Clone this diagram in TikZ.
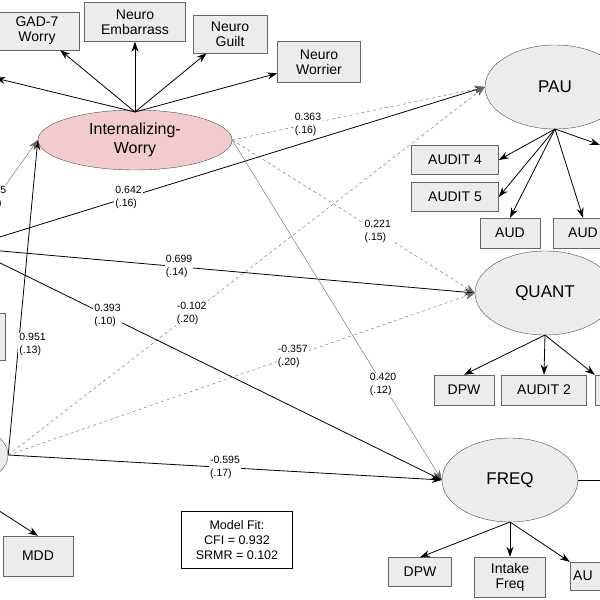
\documentclass[tikz,border=0pt]{standalone}
\usepackage{fontspec}
\setmainfont{Liberation Sans}
\usetikzlibrary{arrows.meta, positioning, shapes.geometric}
\definecolor{latentgray}{RGB}{236,236,236}
\definecolor{worrypink}{RGB}{242,204,204}
\begin{document}
\begin{tikzpicture}[x=1pt, y=-1pt, >={Stealth[length=10pt,width=7pt]},
    obs/.style={draw=black!60, fill=latentgray, rectangle, inner sep=0pt, align=center, font=\fontsize{14}{15}\selectfont},
    lat/.style={draw=black!70, fill=latentgray, ellipse, inner sep=0pt, align=center, font=\fontsize{17}{19}\selectfont},
    est/.style={fill=white, text=black, inner sep=1pt, align=left, font=\fontsize{10.5}{13}\selectfont},
    path/.style={->, thick},
    cov/.style={->, dashed, black!60},
    gpath/.style={->, black!60}]
    \useasboundingbox (0,0) rectangle (600,600);
    % latent factors
    \node[lat, fill=worrypink, minimum width=194pt, minimum height=60pt, font=\fontsize{16}{19}\selectfont] (worry) at (135,140) {Internalizing-\\Worry};
    \node[lat, minimum width=140pt, minimum height=84pt] (pau) at (555,87) {PAU};
    \node[lat, minimum width=140pt, minimum height=84pt] (quant) at (545,293) {QUANT};
    \node[lat, minimum width=136pt, minimum height=84pt] (freq) at (510,480) {FREQ};
    \node[lat, minimum width=96pt, minimum height=60pt] (dep) at (-40,455) {};
    % indicators
    \node[obs, minimum width=84pt, minimum height=38pt] (gad) at (37,31) {GAD-7\\Worry};
    \node[obs, minimum width=101pt, minimum height=39pt] (embar) at (135,22) {Neuro\\Embarrass};
    \node[obs, minimum width=74pt, minimum height=38pt] (guilt) at (230,34) {Neuro\\Guilt};
    \node[obs, minimum width=83pt, minimum height=41pt] (worrier) at (319,62) {Neuro\\Worrier};
    \node[obs, minimum width=60pt, minimum height=38pt] (leftbox) at (-35,78) {};
    \node[obs, minimum width=40pt, minimum height=47pt] (midbox) at (-15,337) {};
    \node[obs, minimum width=70pt, minimum height=40pt] (mdd) at (38,556) {MDD};
    \node[obs, minimum width=87pt, minimum height=29pt] (aud4) at (455,160) {AUDIT 4};
    \node[obs, minimum width=87pt, minimum height=29pt] (aud5) at (455,197) {AUDIT 5};
    \node[obs, minimum width=60pt, minimum height=30pt] (audA) at (510,233) {AUD};
    \node[obs, minimum width=60pt, minimum height=30pt] (audB) at (583,233) {AUD};
    \node[obs, minimum width=60pt, minimum height=30pt] (audC) at (630,160) {};
    \node[obs, minimum width=60pt, minimum height=30pt] (qdpw) at (464,390) {DPW};
    \node[obs, minimum width=85pt, minimum height=30pt] (aud2) at (544,390) {AUDIT 2};
    \node[obs, minimum width=60pt, minimum height=30pt] (qright) at (625,390) {};
    \node[obs, minimum width=63pt, minimum height=29pt] (fdpw) at (420,572) {DPW};
    \node[obs, minimum width=71pt, minimum height=40pt] (intake) at (510,577) {Intake\\Freq};
    \node[obs, minimum width=60pt, minimum height=28pt] (faud) at (600,576) {AU\phantom{DIT 3}};
    \node[draw, fill=white, minimum width=111pt, minimum height=57pt, align=center, font=\fontsize{12.5}{15}\selectfont] (fit) at (237,540) {Model Fit:\\CFI = 0.932\\SRMR = 0.102};
    \coordinate (wtop) at (135,112);
    \coordinate (ptop) at (555,129);
    \coordinate (qbot) at (545,335);
    \coordinate (fbot) at (510,522);
    \coordinate (cA) at (-10,240);
    \coordinate (cB) at (-10,250);
    \coordinate (cC) at (-10,258);
    \coordinate (cD) at (-30,235);
    \coordinate (cE) at (-10,505);
    \coordinate (cF) at (640,480);
    % loadings
    \foreach \t in {gad, embar, guilt, worrier} \draw[path] (wtop) -- (\t);
    \draw[path] (wtop) -- (leftbox.east);
    \foreach \t in {aud4.east, aud5.east, audA.north, audB.north, audC.north west} \draw[path] (ptop) -- (\t);
    \foreach \t in {qdpw.north, aud2.north, qright.north west} \draw[path] (qbot) -- (\t);
    \foreach \t in {fdpw.north, intake.north, faud.north west} \draw[path] (fbot) -- (\t);
    \draw[path] (cE) -- (mdd.north);
    \draw (freq.east) -- (cF);
    % structural paths
    \draw[path] (dep.east) -- node[est, pos=0.35, xshift=14pt] {0.951\\(.13)} (worry.west);
    \draw[gpath] (cD) -- node[est, pos=0.4, xshift=-4pt] {0.215\\(.15)} (worry.west);
    \draw[path] (cA) -- node[est, pos=0.28] {0.642\\(.16)} (pau.west);
    \draw[path] (cB) -- node[est, pos=0.39] {0.699\\(.14)} (quant.west);
    \draw[path] (cC) -- node[est, pos=0.26] {0.393\\(.10)} (freq.west);
    \draw[path] (dep.east) -- node[est, pos=0.5] {-0.595\\(.17)} (freq.west);
    \draw[cov] (dep.east) -- node[est, pos=0.385] {-0.102\\(.20)} (pau.west);
    \draw[cov] (dep.east) -- node[est, pos=0.61] {-0.357\\(.20)} (quant.west);
    \draw[cov] (worry.east) -- node[est, pos=0.3] {0.363\\(.16)} (pau.west);
    \draw[cov] (worry.east) -- node[est, pos=0.6] {0.221\\(.15)} (quant.west);
    \draw[gpath] (worry.east) -- node[est, pos=0.72] {0.420\\(.12)} (freq.west);
\end{tikzpicture}
\end{document}
